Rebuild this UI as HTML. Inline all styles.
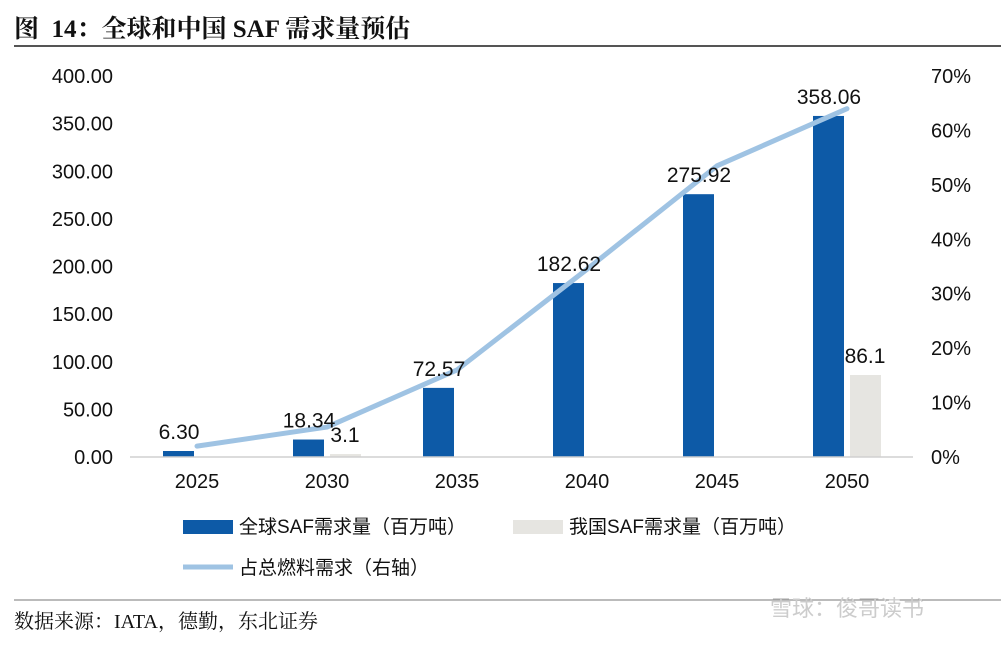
<!DOCTYPE html>
<html><head><meta charset="utf-8"><style>
body{margin:0;width:1001px;height:640px;background:#fff;overflow:hidden;font-family:"Liberation Sans","Noto Sans CJK SC",sans-serif}
svg text{font-family:"Liberation Sans","Noto Sans CJK SC",sans-serif}
svg text.serif{font-family:"Liberation Serif","Noto Serif CJK SC",serif}
</style></head><body>
<svg width="1001" height="640">
<text class="serif" x="14" y="37" font-size="25" font-weight="bold" fill="#111" xml:space="preserve">图  14：全球和中国 SAF 需求量预估</text>
<line x1="14" y1="46" x2="1001" y2="46" stroke="#555" stroke-width="2"/>
<g id="plot"></g>
<g>
<rect x="183" y="520" width="50" height="14" fill="#0d5aa7"/>
<text x="239" y="533" font-size="19" fill="#111">全球SAF需求量（百万吨）</text>
<rect x="513" y="520" width="50" height="14" fill="#e6e5e1"/>
<text x="569" y="533" font-size="19" fill="#111">我国SAF需求量（百万吨）</text>
<line x1="183" y1="567" x2="233" y2="567" stroke="#9fc3e3" stroke-width="5"/>
<text x="239" y="574" font-size="19" fill="#111">占总燃料需求（右轴）</text>
</g>
<line x1="14" y1="600" x2="1001" y2="600" stroke="#777" stroke-width="1"/>
<text class="serif" x="14" y="628" font-size="20" fill="#111">数据来源：IATA，德勤，东北证券</text>
<text x="770" y="616" font-size="22" fill="#ccc">雪球：俊哥读书</text>
</svg>
<script>
const categories=["2025","2030","2035","2040","2045","2050"];
const globalVals=[6.30,18.34,72.57,182.62,275.92,358.06];
const globalLabels=["6.30","18.34","72.57","182.62","275.92","358.06"];
const chinaVals=[0,3.1,0,0,0,86.1];
const chinaLabels=["","3.1","","","","86.1"];
const shareVals=[2,5.5,16,34.5,53.5,64];
const leftTicks=[0,50,100,150,200,250,300,350,400];
const rightTicks=[0,10,20,30,40,50,60,70];
const NS="http://www.w3.org/2000/svg";
const g=document.getElementById('plot');
const y0=457,yTop=76;
const yL=v=>y0-(v/400)*(y0-yTop);
const yR=v=>y0-(v/70)*(y0-yTop);
const xC=i=>197+130*i;
function mk(t,a,p){const e=document.createElementNS(NS,t);for(const k in a)e.setAttribute(k,a[k]);(p||g).appendChild(e);return e;}
leftTicks.forEach(v=>{const t=mk('text',{x:113,y:yL(v)+7,'text-anchor':'end','font-size':20,fill:'#111'});t.textContent=v.toFixed(2);

});
rightTicks.forEach(v=>{const t=mk('text',{x:931,y:yR(v)+7,'font-size':20,fill:'#111'});t.textContent=v+'%';

});
categories.forEach((c,i)=>{
const b=mk('rect',{x:xC(i)-34,y:yL(globalVals[i]),width:31,height:y0-yL(globalVals[i]),fill:'#0d5aa7'});


if(chinaVals[i]>0){const r=mk('rect',{x:xC(i)+3,y:yL(chinaVals[i]),width:31,height:y0-yL(chinaVals[i]),fill:'#e6e5e1'});

}
const t=mk('text',{x:xC(i),y:488,'text-anchor':'middle','font-size':20,fill:'#111'});t.textContent=c;


});
const ax=mk('line',{x1:130,y1:y0,x2:913,y2:y0,stroke:'#d0d0d0','stroke-width':1.5});


const pl=mk('polyline',{points:shareVals.map((v,i)=>xC(i)+','+yR(v)).join(' '),fill:'none',stroke:'#9fc3e3','stroke-width':5,'stroke-linejoin':'round','stroke-linecap':'round'});


categories.forEach((c,i)=>{
const t=mk('text',{x:xC(i)-18,y:yL(globalVals[i])-12,'text-anchor':'middle','font-size':21,fill:'#111'});t.textContent=globalLabels[i];


if(chinaLabels[i]){const u=mk('text',{x:xC(i)+18,y:yL(chinaVals[i])-12,'text-anchor':'middle','font-size':21,fill:'#111'});u.textContent=chinaLabels[i];

}
});
</script>
</body></html>
